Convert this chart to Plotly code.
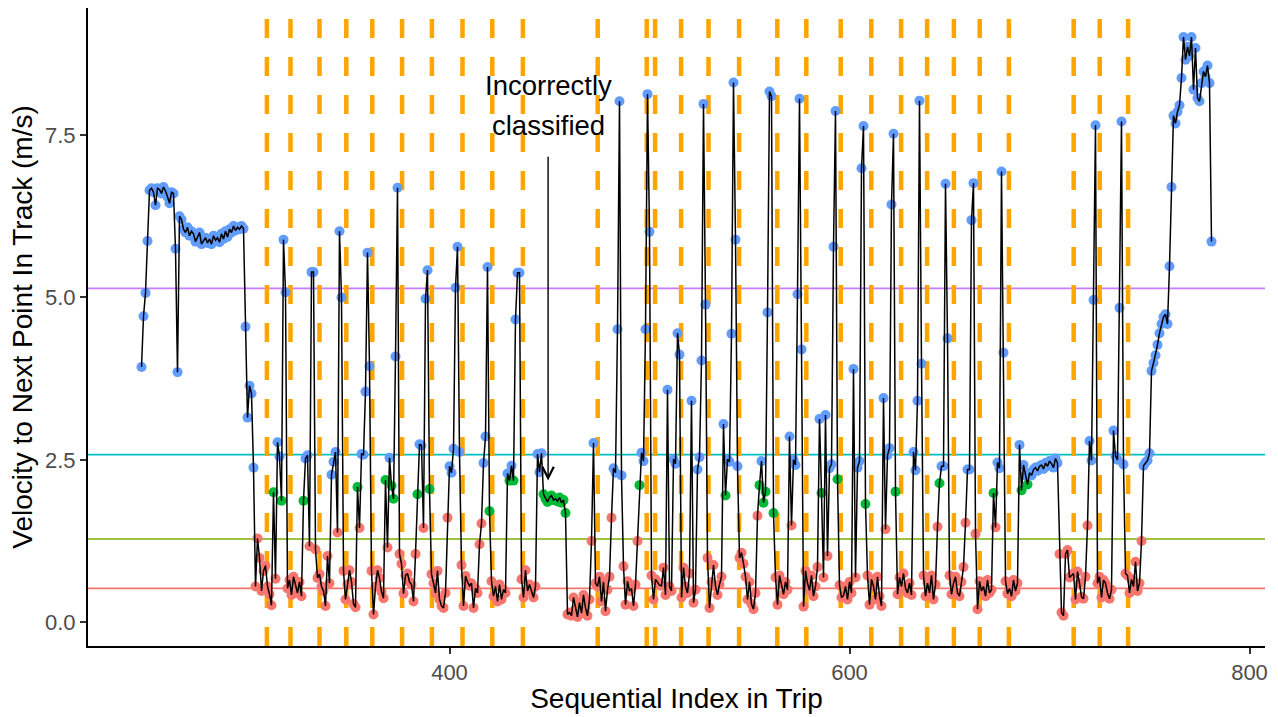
import numpy as np
import plotly.graph_objects as go

# ---------------- data ----------------
# velocity to next point (m/s), one value per sequential index, in trip order
v_cruise_start = [3.93, 4.71, 5.07, 5.87,
                  6.65, 6.68, 6.62, 6.42, 6.68, 6.66, 6.60, 6.70, 6.64, 6.55, 6.45, 6.62, 6.60,
                  5.75, 3.85,
                  6.25, 6.20, 6.05, 6.00, 6.08, 5.95, 6.02, 5.98, 5.86, 5.92, 6.00, 5.82, 5.88, 5.92, 5.84, 5.90, 5.82,
                  5.95, 5.88, 5.92, 5.85, 5.98, 5.90, 6.02, 5.93, 6.05, 6.00, 6.10, 6.03, 6.08, 6.05, 6.10, 6.06,
                  4.55, 3.15, 3.64, 3.52, 2.38]
v_stops_a = [0.55, 1.29, 0.99, 0.48, 0.79, 0.87, 0.55, 0.43, 0.26, 2.00, 0.67, 2.77, 2.55, 1.87, 5.89, 5.08,
             0.52, 0.65, 0.42, 0.70, 0.58, 0.45, 0.62, 0.40, 1.87, 2.52, 2.57, 1.17, 5.39, 5.39, 1.12,
             0.68, 0.74, 0.55, 0.48, 0.25, 1.02, 0.60, 2.27, 2.47, 2.62, 1.38, 6.02, 5.00,
             0.79, 0.35, 0.58, 0.80, 0.62, 0.28, 0.23, 2.08, 1.45, 2.59, 2.58, 3.55, 5.69, 3.94,
             0.79, 0.12, 0.55, 0.80, 0.68, 0.47, 0.37, 2.19, 1.15, 2.53, 2.10, 1.90, 4.09, 6.69, 1.05]
v_stops_b = [0.90, 0.44, 0.72, 0.75, 0.62, 0.58, 0.32, 1.05, 1.97, 2.74, 2.72, 1.45, 4.98, 5.42, 2.05,
             0.74, 0.60, 0.45, 0.79, 0.35, 0.25, 0.22, 0.45, 1.61, 2.40, 2.30, 2.67, 5.15, 5.78, 2.62,
             0.88, 0.25, 0.71, 0.62, 0.56, 0.60, 0.22, 0.52, 0.45, 1.20, 1.52, 2.45, 2.86, 5.47, 1.71,
             0.63, 0.40, 0.55, 0.32, 0.58, 0.35, 0.50, 0.45, 2.29, 2.18, 2.41, 2.18, 4.66, 5.38, 5.38]
v_misclassified = [0.66, 0.38, 0.80, 0.48, 0.58, 0.48, 0.38, 0.55, 2.59, 2.31, 2.60,
                   1.97, 1.90, 1.85, 1.92, 1.95, 1.88, 1.90, 1.86, 1.92, 1.84, 1.88, 1.68,
                   0.12, 0.15, 0.10, 0.38, 0.20, 0.08, 0.30, 0.14, 0.42, 0.22, 0.10, 0.35, 1.25, 2.76, 0.60,
                   0.55, 0.70, 0.32, 0.62, 0.17, 0.50, 0.70, 1.61, 2.37, 2.30, 4.51, 8.02, 2.26]
v_stops_c = [0.86, 0.27, 0.63, 0.48, 0.52, 0.25, 0.58, 1.25, 2.11, 2.61, 2.48, 4.51, 8.13, 6.01,
             0.72, 0.35, 0.66, 0.62, 0.57, 0.56, 0.84, 0.42, 3.58, 0.55, 0.48, 2.51, 2.44, 4.45, 4.12,
             0.38, 0.84, 0.55, 0.45, 0.75, 3.41, 0.30, 0.50, 2.35, 2.54, 4.03, 7.98, 4.89,
             0.99, 0.22, 0.62, 0.88, 0.55, 0.42, 0.58, 0.70, 3.05, 1.95, 2.51, 2.47, 4.44, 8.31, 5.89, 2.40,
             0.99, 1.07, 0.90, 0.70, 0.35, 0.62, 0.28, 0.20, 0.45, 1.64, 2.11, 2.48, 1.84, 2.01, 4.77, 8.17, 8.10, 1.68]
v_stops_d = [0.69, 0.27, 0.72, 0.58, 0.43, 0.62, 0.50, 2.86, 1.49, 2.50, 2.42, 5.05, 8.06, 4.20,
             0.24, 0.79, 0.60, 0.49, 0.72, 0.40, 0.55, 0.85, 3.13, 1.99, 0.69, 3.19, 1.02, 2.37, 2.43, 5.78, 7.87, 2.20,
             0.57, 0.38, 0.41, 0.55, 0.35, 0.62, 0.45, 3.90, 0.69, 2.38, 2.48, 6.99, 7.64, 1.82,
             0.72, 0.27, 0.66, 0.55, 0.35, 0.70, 0.40, 0.25, 3.45, 1.43, 2.57, 2.68, 6.43, 7.52, 2.01,
             0.43, 0.69, 0.55, 0.75, 0.52, 0.45, 0.60, 0.42, 2.62, 2.34, 3.41, 8.03, 3.98]
v_stops_e = [0.72, 0.40, 0.60, 0.45, 0.72, 0.35, 0.58, 1.47, 2.14, 2.40, 2.40, 6.75, 4.37,
             0.72, 0.43, 0.60, 0.70, 0.45, 0.40, 0.62, 0.85, 1.53, 2.35, 2.35, 6.19, 6.76, 1.36,
             0.20, 0.63, 0.48, 0.55, 0.40, 0.65, 0.45, 0.50, 1.99, 1.46, 2.46, 2.37, 6.94, 4.15,
             0.63, 0.44, 0.52, 0.40, 0.65, 0.48, 0.60, 2.73, 2.03, 2.42, 2.26, 2.12, 2.30, 2.26, 2.35,
             2.38, 2.33, 2.40, 2.42, 2.36, 2.45, 2.40, 2.48, 2.44, 2.38, 2.52, 2.45]
v_stops_f = [1.05, 0.15, 0.10, 1.05, 1.11, 0.69, 0.72, 0.75, 0.35, 0.78, 0.60, 0.39, 0.36, 0.70, 1.49, 2.79, 2.49, 4.96, 7.65,
             0.60, 0.70, 0.38, 0.65, 0.60, 0.45, 0.36, 0.50, 2.95, 2.56, 2.50, 4.84, 7.71, 2.43,
             0.75, 0.72, 0.45, 0.66, 0.55, 0.93, 0.48, 0.60, 1.25]
v_cruise_end = [2.41, 2.46, 2.49, 2.60, 3.87, 3.99, 4.11, 4.27, 4.45, 4.59, 4.70, 4.74, 4.59, 5.48, 6.70,
                7.80, 7.68, 7.86, 7.96, 8.38, 9.01, 8.66, 8.86, 8.72, 9.01, 8.20, 8.84, 8.07, 8.02, 8.30,
                8.48, 8.40, 8.57, 8.30, 5.86]

segment_start = [246, 303, 376, 436, 487, 563, 637, 705, 747]
segments = [v_cruise_start, v_stops_a, v_stops_b, v_misclassified, v_stops_c,
            v_stops_d, v_stops_e, v_stops_f, v_cruise_end]

# indices of detected stops (orange dashed lines)
stop_indices = [308.7, 320.5, 335.0, 348.4, 361.4, 376.3, 391.2, 406.5, 421.4, 436.7,
                474.1, 498.6, 502.8, 515.8, 529.5, 544.8, 563.9, 578.4, 595.6, 610.9,
                625.8, 638.8, 652.2, 665.1, 679.7, 712.1, 725.1, 739.3]

# class reference speeds (horizontal lines)
reference_speeds = [0.52, 1.28, 2.58, 5.14]
reference_colors = ["#F8766D", "#7CAE00", "#00BFC4", "#C77CFF"]

# speed class edges used for point colours
class_edges = [1.66, 2.22]
class_colors = ["#F8766D", "#00BA38", "#619CFF"]

x_ticks = [400, 600, 800]
y_ticks = [0.0, 2.5, 5.0, 7.5]

# ---------------- assemble ----------------
idx_parts, vel_parts = [], []
for s, seg in zip(segment_start, segments):
    idx_parts.append(s + np.arange(len(seg)))
    vel_parts.append(np.array(seg, dtype=float))
for i in range(len(segments) - 1):
    assert segment_start[i] + len(segments[i]) == segment_start[i + 1], (i, segment_start[i] + len(segments[i]))
idx = np.concatenate(idx_parts)
vel = np.concatenate(vel_parts)
cls = np.digitize(vel, class_edges)
colors = [class_colors[c] for c in cls]

xpad = 0.05 * (idx.max() - idx.min())
ypad = 0.05 * (vel.max() - vel.min())
xr = [idx.min() - xpad, idx.max() + xpad]
yr = [vel.min() - ypad, vel.max() + ypad]

FONT = "Liberation Sans, Arial, sans-serif"

fig = go.Figure()
for v, c in zip(reference_speeds, reference_colors):
    fig.add_shape(type="line", xref="paper", yref="y", x0=0, x1=1, y0=v, y1=v,
                  line=dict(color=c, width=1.6), layer="below")
for s in stop_indices:
    fig.add_shape(type="line", xref="x", yref="paper", x0=s, x1=s, y0=0, y1=1,
                  line=dict(color="#FFA500", width=4.5, dash="19px,19px"), layer="below")

fig.add_trace(go.Scatter(x=idx, y=vel, mode="markers",
                         marker=dict(size=10, color=colors, line=dict(width=0)),
                         showlegend=False, hoverinfo="skip"))
fig.add_trace(go.Scatter(x=idx, y=vel, mode="lines",
                         line=dict(color="black", width=1.5),
                         showlegend=False, hoverinfo="skip"))

ann_x = 449.3
fig.add_annotation(x=ann_x, y=8.27, xref="x", yref="y", text="Incorrectly", showarrow=False,
                   font=dict(family=FONT, size=27.5, color="black"))
fig.add_annotation(x=ann_x, y=7.65, xref="x", yref="y", text="classified", showarrow=False,
                   font=dict(family=FONT, size=27.5, color="black"))
fig.add_annotation(x=ann_x, y=2.18, xref="x", yref="y", ax=ann_x, ay=7.19, axref="x", ayref="y",
                   text="", showarrow=True, arrowhead=5, arrowsize=1.6, arrowwidth=1.4,
                   arrowcolor="black", standoff=0)

fig.update_layout(
    width=1278, height=717,
    margin=dict(l=88, r=13, t=8, b=71),
    plot_bgcolor="white", paper_bgcolor="white",
    font=dict(family=FONT),
    showlegend=False,
    xaxis=dict(range=xr, tickvals=x_ticks, ticktext=[str(t) for t in x_ticks],
               showgrid=False, zeroline=False, showline=True, linecolor="black", linewidth=2,
               ticks="outside", ticklen=6, tickwidth=2, tickcolor="#333333",
               tickfont=dict(family=FONT, size=22, color="#4D4D4D"),
               title=dict(text="Sequential Index in Trip", font=dict(family=FONT, size=28, color="black"),
                          standoff=4)),
    yaxis=dict(range=yr, tickvals=y_ticks, ticktext=["%.1f" % t for t in y_ticks],
               showgrid=False, zeroline=False, showline=True, linecolor="black", linewidth=2,
               ticks="outside", ticklen=6, tickwidth=2, tickcolor="#333333",
               tickfont=dict(family=FONT, size=22, color="#4D4D4D"),
               title=dict(text="Velocity to Next Point In Track (m/s)",
                          font=dict(family=FONT, size=28, color="black"), standoff=4)),
)

fig.write_html("out.html")
